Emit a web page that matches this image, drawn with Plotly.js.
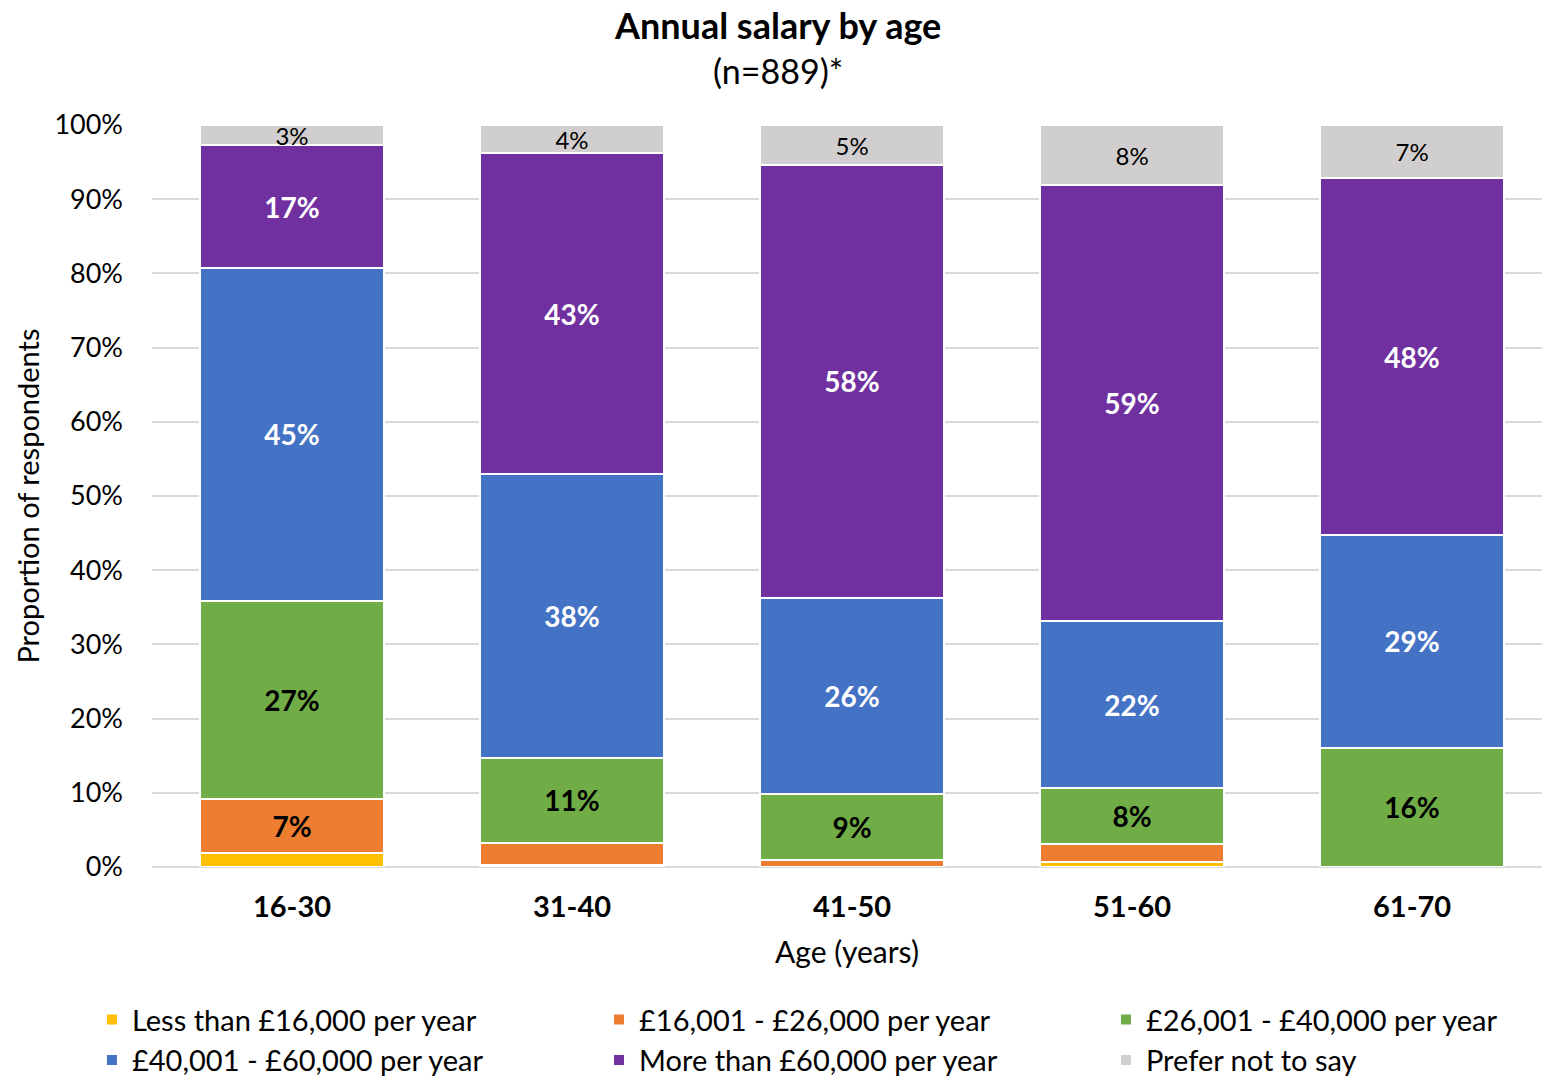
<!DOCTYPE html>
<html>
<head>
<meta charset="utf-8">
<script src="https://cdn.plot.ly/plotly-3.0.1.min.js"></script>
<style>
    html, body { margin: 0; padding: 0; background: #fff; }
    #chart { width: 1542px; height: 1077px; }
</style>
</head>
<body>
<div id="chart"></div>
<script>
// Age groups and share of respondents (%) in each salary band
const ageGroups = ['16-30', '31-40', '41-50', '51-60', '61-70'];

const lessThan16k = [1.9, 0.3, 0, 0.7, 0];
const from16to26k = [7.3, 3.0, 0.9, 2.4, 0];
const from26to40k = [26.7, 11.4, 9.0, 7.6, 16.1];
const from40to60k = [44.8, 38.2, 26.4, 22.4, 28.6];
const moreThan60k = [16.6, 43.3, 58.3, 58.8, 48.2];
const preferNotToSay = [2.7, 3.8, 5.4, 8.1, 7.1];

const seriesNames = [
    'Less than £16,000 per year',
    '£16,001 - £26,000 per year',
    '£26,001 - £40,000 per year',
    '£40,001 - £60,000 per year',
    'More than £60,000 per year',
    'Prefer not to say'
];

const FONT = 'Lato, "Open Sans", sans-serif';

// legend is laid out in three columns, one legend per column
function makeTrace(name, values, color, labelColor, bold, minLabel, legendId) {
    return {
        type: 'bar',
        name: name,
        legend: legendId,
        x: ageGroups,
        y: values,
        marker: { color: color, line: { color: '#ffffff', width: 2 } },
        text: values.map(v => v >= minLabel ? Math.round(v) + '%' : ''),
        textposition: 'inside',
        insidetextanchor: 'middle',
        textangle: 0,
        constraintext: 'none',
        textfont: { family: FONT, size: bold ? 28 : 24, color: labelColor, weight: bold ? 'bold' : 'normal' },
        hoverinfo: 'name+y'
    };
}

const traces = [
    makeTrace(seriesNames[0], lessThan16k, '#FFC000', '#000', true, 5, 'legend'),
    makeTrace(seriesNames[1], from16to26k, '#ED7D31', '#000', true, 5, 'legend2'),
    makeTrace(seriesNames[2], from26to40k, '#70AD47', '#000', true, 5, 'legend3'),
    makeTrace(seriesNames[3], from40to60k, '#4472C4', '#fff', true, 5, 'legend'),
    makeTrace(seriesNames[4], moreThan60k, '#7030A0', '#fff', true, 5, 'legend2'),
    makeTrace(seriesNames[5], preferNotToSay, '#D0CECE', '#000', false, 0, 'legend3')
];

// paper x with container y keeps the legends from pushing the side margins
function legendAt(x) {
    return {
        orientation: 'v',
        xref: 'paper',
        yref: 'container',
        x: x,
        xanchor: 'left',
        y: 0.077,
        yanchor: 'top',
        traceorder: 'normal',
        itemsizing: 'constant',
        bgcolor: 'rgba(0,0,0,0)',
        font: { family: FONT, size: 29, color: '#000' }
    };
}

const layout = {
    width: 1542,
    height: 1077,
    margin: { l: 152, r: 0, t: 125, b: 210 },
    barmode: 'stack',
    bargap: 0.34,
    paper_bgcolor: '#fff',
    plot_bgcolor: '#fff',
    font: { family: FONT, color: '#000' },
    showlegend: true,
    legend: legendAt(-0.0432),
    legend2: legendAt(0.3216),
    legend3: legendAt(0.6863),
    xaxis: {
        range: [-0.5, 4.464],
        showgrid: false,
        showline: false,
        ticks: '',
        ticklabelstandoff: 20,
        tickfont: { family: FONT, size: 29, color: '#000', weight: 'bold' },
        title: { text: 'Age (years)', font: { family: FONT, size: 30, color: '#000' }, standoff: 19 }
    },
    yaxis: {
        range: [0, 100],
        dtick: 10,
        ticksuffix: '%',
        showgrid: true,
        gridcolor: '#D9D9D9',
        gridwidth: 2,
        zeroline: true,
        zerolinecolor: '#D9D9D9',
        zerolinewidth: 2,
        showline: false,
        ticks: '',
        ticklabelstandoff: 28,
        tickfont: { family: FONT, size: 27, color: '#000' },
        title: { text: 'Proportion of respondents', font: { family: FONT, size: 29, color: '#000' }, standoff: 6 }
    },
    annotations: [
        {
            text: '<b>Annual salary by age</b>',
            xref: 'paper', yref: 'paper', x: 0.45, y: 1.0,
            yshift: 100, xanchor: 'center', yanchor: 'middle',
            showarrow: false,
            font: { family: FONT, size: 36, color: '#000' }
        },
        {
            text: '(n=889)*',
            xref: 'paper', yref: 'paper', x: 0.45, y: 1.0,
            yshift: 55, xanchor: 'center', yanchor: 'middle',
            showarrow: false,
            font: { family: FONT, size: 34, color: '#000' }
        }
    ]
};

Plotly.newPlot('chart', traces, layout, { displayModeBar: false, staticPlot: true });
</script>
</body>
</html>
